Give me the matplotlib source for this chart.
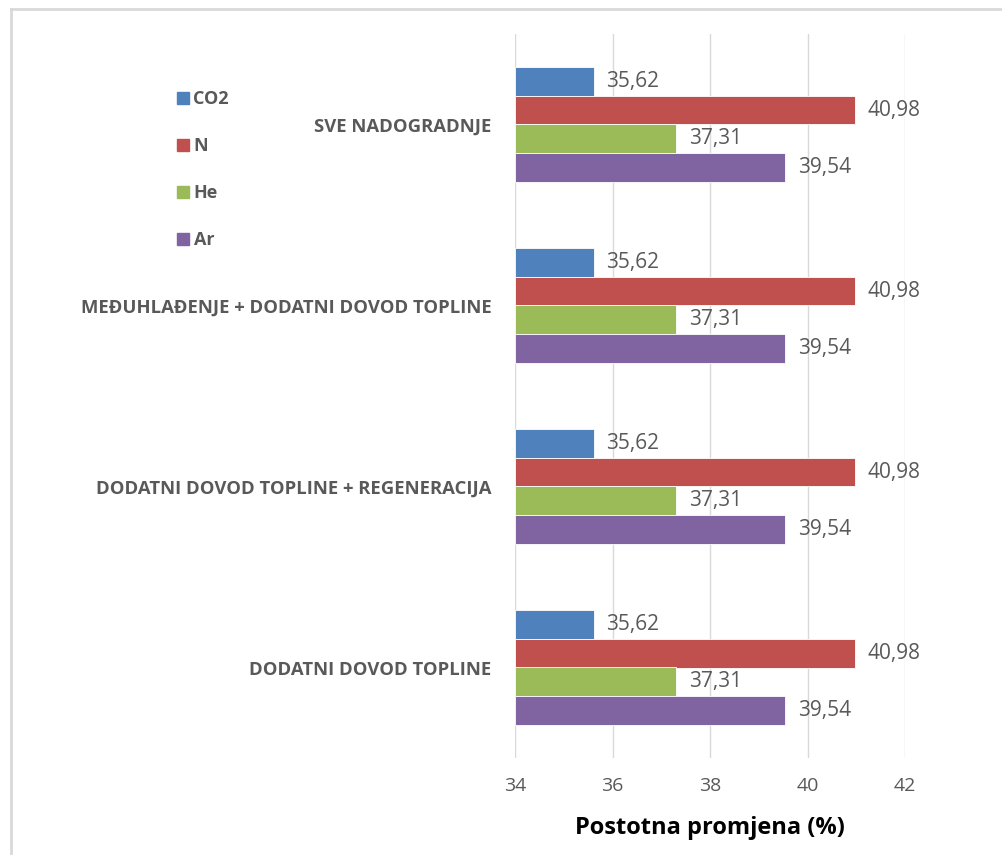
import matplotlib
matplotlib.use("Agg")
import numpy as np
import matplotlib.pyplot as plt
from matplotlib.lines import Line2D

plt.rcParams['font.family'] = ['Open Sans', 'DejaVu Sans']

categories = ["SVE NADOGRADNJE",
              "MEĐUHLAĐENJE + DODATNI DOVOD TOPLINE",
              "DODATNI DOVOD TOPLINE + REGENERACIJA",
              "DODATNI DOVOD TOPLINE"]
series = ["CO2", "N", "He", "Ar"]
values = {
    "CO2": [35.62, 35.62, 35.62, 35.62],
    "N": [40.98, 40.98, 40.98, 40.98],
    "He": [37.31, 37.31, 37.31, 37.31],
    "Ar": [39.54, 39.54, 39.54, 39.54],
}
colors = {"CO2": "#4F81BD", "N": "#C0504D", "He": "#9BBB59", "Ar": "#8064A2"}
xticks = [34, 36, 38, 40, 42]

W, H = 1002, 855
fig = plt.figure(figsize=(W / 100, H / 100), dpi=100)
ax = fig.add_axes([515 / W, 1 - 758 / H, 390 / W, 724 / H])

n_cat = len(categories)
bar_h = 0.16
base = 34
y = np.arange(n_cat)
for i, s in enumerate(series):
    pos = y - 1.5 * bar_h + i * bar_h
    vals = np.array(values[s])
    ax.barh(pos, vals - base, left=base, height=bar_h, color=colors[s],
            edgecolor="white", linewidth=0.6, label=s, zorder=3)
    for p, v in zip(pos, vals):
        ax.annotate(f"{v:.2f}".replace(".", ","), (v, p), xytext=(9, 0),
                    textcoords="offset points", va="center", ha="left",
                    fontsize=15, color="#595959")

ax.set_xlim(34, 42)
ax.set_ylim(n_cat - 0.5, -0.5)
ax.set_xticks(xticks)
ax.set_xticklabels([str(t) for t in xticks], fontsize=14, color="#595959")
ax.set_yticks(y)
ax.set_yticklabels(categories, fontsize=13.3, fontweight="bold", color="#595959")
ax.tick_params(axis="y", length=0, pad=17)
ax.tick_params(axis="x", length=0, pad=14)
ax.grid(axis="x", color="#D9D9D9", linewidth=1, zorder=0)
for sp in ax.spines.values():
    sp.set_visible(False)
ax.set_xlabel("Postotna promjena (%)", fontsize=17, fontweight="bold",
              color="black", labelpad=15)

handles = [Line2D([], [], marker="s", linestyle="none", markersize=9,
                  markerfacecolor=colors[s], markeredgecolor=colors[s]) for s in series]
fig.legend(handles, series, loc="upper left", bbox_to_anchor=(161 / W, 1 - 74 / H),
           frameon=False, handlelength=0.6, handletextpad=0.3, labelspacing=1.6,
           prop={"size": 13, "weight": "bold"}, labelcolor="#595959")

fig.add_artist(Line2D([11 / W, 11 / W], [0, 1 - 9 / H], transform=fig.transFigure,
                      color="#D9D9D9", linewidth=2))
fig.add_artist(Line2D([11 / W, 1], [1 - 9 / H, 1 - 9 / H], transform=fig.transFigure,
                      color="#D9D9D9", linewidth=2))

fig.savefig("out.png", dpi=100)
